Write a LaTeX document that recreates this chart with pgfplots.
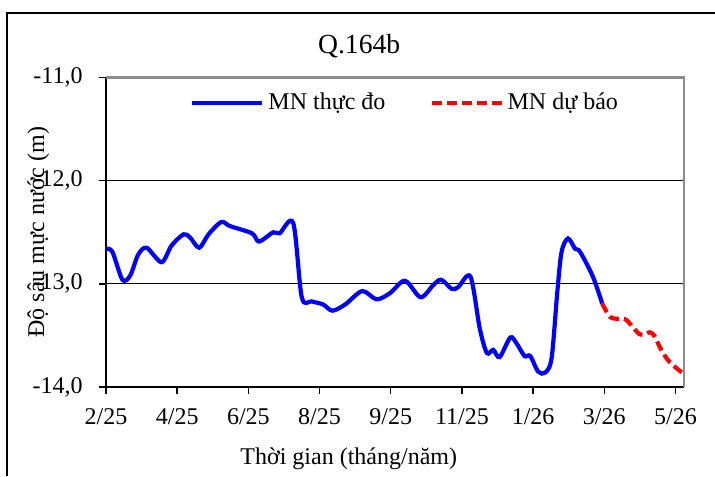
\documentclass[border=0pt]{standalone}
\usepackage{fontspec}
\setmainfont{Liberation Serif}
\usepackage{pgfplots}
\pgfplotsset{compat=1.18}
\definecolor{boxgray}{RGB}{140,140,140}

\begin{document}
\fontsize{12}{14}\selectfont
\begin{tikzpicture}
\useasboundingbox (0,0) rectangle (357.5pt,238pt);
% outer frame of the figure
\draw[line width=0.75pt] (3.5pt,0) -- (3.5pt,231.5pt) -- (357.5pt,231.5pt);
\begin{axis}[
    at={(53pt,44.5pt)}, anchor=south west,
    scale only axis, width=289pt, height=154.75pt,
    xmin=0, xmax=8.12, ymin=-14, ymax=-11,
    clip=false,
    axis x line*=bottom, axis y line*=left,
    axis line style={line width=1pt, black},
    tick align=outside, major tick length=3.5pt,
    tick style={black, line width=0.75pt},
    xtick={0,...,8},
    xticklabels={2/25,4/25,6/25,8/25,9/25,11/25,1/26,3/26,5/26},
    ytick={-14,-13,-12,-11},
    yticklabels={{-14,0},{-13,0},{-12,0},{-11,0}},
    ymajorgrids, major grid style={black, line width=0.5pt},
    ticklabel style={font=\fontsize{12}{14}\selectfont},
    xticklabel style={anchor=base, yshift=-15pt},
    yticklabel style={anchor=east, inner sep=0pt, xshift=-8pt},
    title={Q.164b},
    title style={at={(axis description cs:0.438,1.039)}, anchor=base, inner sep=0pt, font=\fontsize{13.8}{16}\selectfont},
    xlabel={Thời gian (tháng/năm)},
    xlabel style={at={(axis description cs:0.42,-0.25)}, anchor=base, inner sep=0pt},
    ylabel={Độ sâu mực nước (m)},
    ylabel style={at={(axis description cs:-0.107,0.5)}, anchor=base, inner sep=0pt},
    legend columns=2,
    legend cell align=left,
    legend style={draw=none, fill=none, at={(axis description cs:0.145,0.918)}, anchor=west,
        inner sep=0pt, font=\fontsize{12}{14}\selectfont,
        /tikz/every even column/.append style={column sep=20pt}},
    legend image code/.code={\draw[#1] (0pt,0pt) -- (35pt,0pt);},
]
\addplot[blue, line width=2.1pt, smooth, tension=0.5] coordinates {
(0,-12.66) (0.09,-12.69) (0.23,-12.96) (0.34,-12.92) (0.45,-12.72) (0.57,-12.65)
(0.78,-12.79) (0.92,-12.63) (1.09,-12.52) (1.18,-12.55) (1.31,-12.65) (1.44,-12.52)
(1.62,-12.40) (1.74,-12.44) (2.05,-12.51) (2.15,-12.59) (2.35,-12.50) (2.44,-12.51)
(2.63,-12.41) (2.75,-13.13) (2.89,-13.17) (3.05,-13.20) (3.18,-13.26) (3.36,-13.20)
(3.60,-13.07) (3.80,-13.15) (3.99,-13.09) (4.20,-12.97) (4.42,-13.13) (4.60,-13.01)
(4.71,-12.96) (4.86,-13.05) (4.95,-13.03) (5.12,-12.93) (5.25,-13.43) (5.35,-13.67)
(5.44,-13.64) (5.53,-13.71) (5.68,-13.52) (5.77,-13.58) (5.88,-13.70) (5.96,-13.70)
(6.07,-13.85) (6.17,-13.86) (6.26,-13.72) (6.34,-13.08) (6.40,-12.69) (6.49,-12.56)
(6.59,-12.66) (6.66,-12.69) (6.84,-12.93) (6.97,-13.19)
};
\addlegendentry{MN thực đo}
\addplot[red, line width=2.1pt, dash pattern=on 5pt off 2.5pt, smooth, tension=0.5] coordinates {
(6.97,-13.19) (7.08,-13.32) (7.20,-13.34) (7.31,-13.35) (7.50,-13.49) (7.64,-13.47)
(7.71,-13.51) (7.80,-13.64) (7.92,-13.76) (8.11,-13.87)
};
\addlegendentry{MN dự báo}
% plot area border: grey on top and right
\draw[boxgray, line width=1.3pt] (rel axis cs:0,1) -- (rel axis cs:1,1) -- (rel axis cs:1,0);
\end{axis}
\end{tikzpicture}
\end{document}
